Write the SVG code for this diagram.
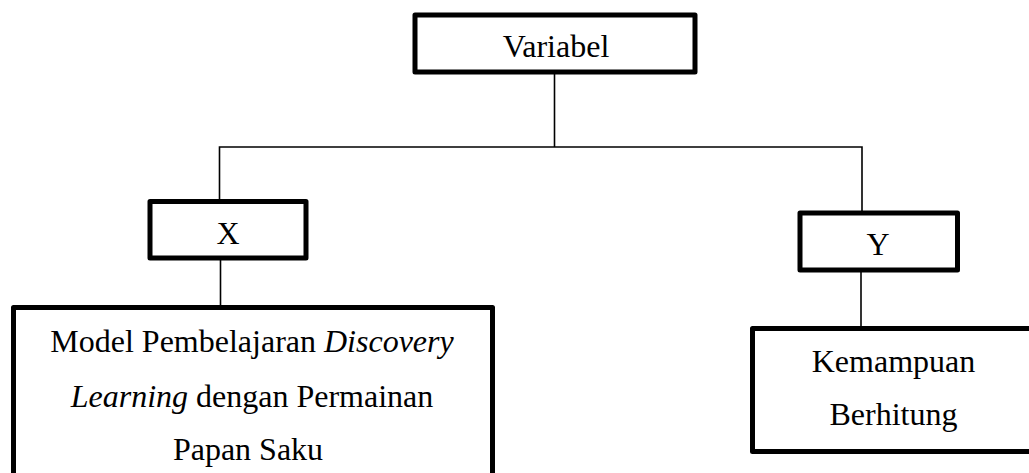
<svg xmlns="http://www.w3.org/2000/svg" width="1029" height="473" viewBox="0 0 1029 473">
<style>
.box{fill:#fff;stroke:#000;stroke-width:5;stroke-linejoin:round}
.ln{fill:none;stroke:#000;stroke-width:1.6}
text{font-family:"Liberation Serif","Times New Roman",serif;font-size:32px;fill:#000;text-anchor:middle}
.it{font-style:italic}
</style>
<rect width="1029" height="473" fill="#fff"/>
<g id="connectors">
<line class="ln" x1="554.5" y1="74" x2="554.5" y2="147"/>
<polyline class="ln" points="219.5,205 219.5,147 862,147 862,211"/>
<line class="ln" x1="220.5" y1="260" x2="220.5" y2="305"/>
<line class="ln" x1="861" y1="272" x2="861" y2="326"/>
</g>
<g id="node-variabel">
<rect class="box" x="415" y="15" width="280" height="57"/>
<text x="556" y="57">Variabel</text>
</g>
<g id="node-x">
<rect class="box" x="150" y="201.5" width="156" height="56.5"/>
<text x="228" y="243.5">X</text>
</g>
<g id="node-y">
<rect class="box" x="800" y="213" width="157.5" height="57"/>
<text x="878" y="255">Y</text>
</g>
<g id="node-model">
<rect class="box" x="13.5" y="307.5" width="479" height="180"/>
<text x="252" y="352">Model Pembelajaran <tspan class="it">Discovery</tspan></text>
<text x="252" y="406.5"><tspan class="it">Learning</tspan> dengan Permainan</text>
<text x="248" y="460">Papan Saku</text>
</g>
<g id="node-kemampuan">
<rect class="box" x="752.5" y="328.5" width="290" height="123"/>
<text x="893.5" y="372">Kemampuan</text>
<text x="893.5" y="425">Berhitung</text>
</g>
</svg>
